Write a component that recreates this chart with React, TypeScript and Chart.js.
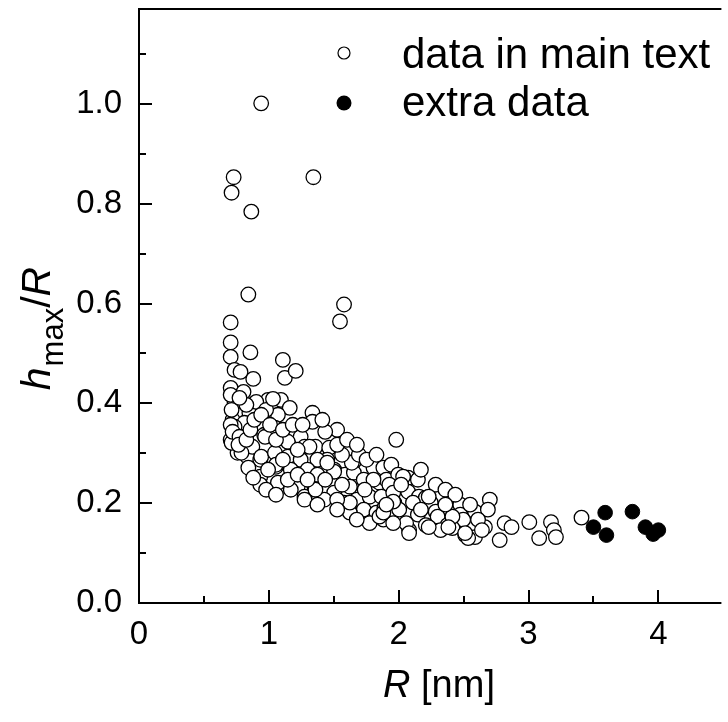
import { useEffect, useRef } from 'react';
import { Chart, registerables } from 'chart.js';

Chart.register(...registerables);

// ---- data (R in nm, hmax/R) ----
const mainR = [
  0.941, 0.729, 0.713, 0.865, 1.343, 0.842, 1.579, 1.548, 0.706, 0.706,
  0.706, 0.858, 0.736, 0.782, 0.880, 1.108, 1.123, 1.207, 0.706, 0.805,
  0.736, 0.896, 0.971, 0.759, 0.850, 0.721, 0.812, 0.911, 0.706, 0.736,
  0.964, 0.759, 0.835, 0.934, 0.934, 0.934, 0.873, 0.994, 1.093, 1.161,
  1.070, 1.336, 1.336, 1.526, 1.434, 1.245, 1.146, 1.047, 0.971, 0.941,
  1.047, 1.146, 1.275, 1.359, 1.465, 1.450, 1.374, 1.245, 1.055, 1.169,
  1.298, 1.503, 1.655, 1.586, 1.655, 1.806, 1.882, 1.731, 1.852, 0.789,
  1.070, 1.222, 1.351, 1.503, 1.427, 1.275, 1.169, 1.579, 1.677, 1.776,
  1.731, 1.624, 1.829, 1.882, 1.776, 1.677, 1.981, 1.943, 1.905, 1.996,
  2.072, 2.148, 2.285, 1.928, 1.867, 1.958, 2.072, 2.156, 2.209, 1.890,
  1.966, 2.110, 2.247, 1.981, 2.148, 2.285, 2.080, 2.209, 2.338, 2.474,
  2.474, 2.421, 2.497, 2.588, 2.702, 2.687, 2.664, 2.512, 2.588, 2.611,
  2.778, 2.816, 2.869, 3.006, 3.082, 3.173, 3.195, 3.211, 3.408, 2.034,
  2.004, 2.300, 2.057, 2.376, 2.414, 2.323, 2.535, 1.852, 1.958, 2.231,
  1.882, 2.414, 2.641, 2.512, 2.383, 2.231, 2.080, 1.958, 1.624, 1.526,
  1.359, 1.275, 1.624, 1.806, 1.639, 1.503, 1.450, 0.903, 0.979, 1.313,
  0.713, 1.055, 1.032, 0.706, 0.713, 0.706, 0.721, 0.774, 0.766, 0.827,
  0.858, 0.827, 0.774, 0.888, 0.941, 1.009, 1.055, 1.108, 1.184, 1.222,
  1.108, 0.994, 0.842, 0.880, 0.979, 1.055, 1.146, 1.222, 1.374, 1.434,
  1.564, 1.564, 1.693, 1.753, 1.829, 1.738, 1.905, 2.019, 2.171, 2.360,
  2.436, 2.550, 2.360, 2.171, 1.526, 1.374, 1.298, 1.526, 1.260, 1.412,
  1.602, 1.678,
];
const mainH = [
  1.001, 0.853, 0.822, 0.784, 0.853, 0.618, 0.598, 0.564, 0.562, 0.522,
  0.493, 0.502, 0.467, 0.463, 0.449, 0.487, 0.451, 0.465, 0.431, 0.423,
  0.401, 0.401, 0.393, 0.377, 0.381, 0.367, 0.361, 0.357, 0.327, 0.353,
  0.337, 0.301, 0.293, 0.287, 0.253, 0.237, 0.313, 0.407, 0.407, 0.391,
  0.377, 0.381, 0.363, 0.347, 0.343, 0.333, 0.323, 0.351, 0.333, 0.293,
  0.301, 0.293, 0.313, 0.313, 0.311, 0.287, 0.287, 0.287, 0.273, 0.267,
  0.267, 0.267, 0.283, 0.257, 0.261, 0.271, 0.271, 0.247, 0.241, 0.301,
  0.241, 0.233, 0.233, 0.221, 0.207, 0.213, 0.227, 0.201, 0.207, 0.213,
  0.187, 0.181, 0.181, 0.167, 0.160, 0.167, 0.327, 0.277, 0.247, 0.257,
  0.251, 0.247, 0.237, 0.237, 0.213, 0.221, 0.223, 0.213, 0.211, 0.191,
  0.201, 0.201, 0.201, 0.177, 0.177, 0.183, 0.146, 0.156, 0.156, 0.197,
  0.177, 0.160, 0.167, 0.183, 0.207, 0.187, 0.152, 0.136, 0.132, 0.167,
  0.126, 0.160, 0.152, 0.162, 0.130, 0.162, 0.146, 0.132, 0.171, 0.253,
  0.187, 0.173, 0.160, 0.156, 0.150, 0.146, 0.130, 0.173, 0.160, 0.213,
  0.181, 0.173, 0.146, 0.140, 0.152, 0.152, 0.140, 0.203, 0.201, 0.207,
  0.227, 0.207, 0.233, 0.247, 0.281, 0.263, 0.281, 0.403, 0.387, 0.313,
  0.321, 0.277, 0.409, 0.417, 0.387, 0.357, 0.343, 0.333, 0.317, 0.327,
  0.347, 0.397, 0.411, 0.367, 0.377, 0.357, 0.327, 0.347, 0.357, 0.307,
  0.287, 0.267, 0.271, 0.251, 0.227, 0.217, 0.247, 0.257, 0.257, 0.247,
  0.237, 0.297, 0.297, 0.287, 0.297, 0.227, 0.197, 0.237, 0.267, 0.227,
  0.217, 0.197, 0.197, 0.187, 0.187, 0.197, 0.247, 0.317, 0.357, 0.367,
  0.327, 0.317,
];
const extraR = [3.50, 3.59, 3.60, 3.80, 3.90, 3.96, 4.00];
const extraH = [0.152, 0.181, 0.136, 0.183, 0.152, 0.138, 0.146];

const xMajorTicks = [0, 1, 2, 3, 4];
const xMinorTicks = [0.5, 1.5, 2.5, 3.5];
const yMajorTicks = [0, 0.2, 0.4, 0.6, 0.8, 1.0];
const yMinorTicks = [0.1, 0.3, 0.5, 0.7, 0.9, 1.1];
const legendLabels = ['data in main text', 'extra data'];

const FAMILY = '"Liberation Sans", Arial, sans-serif';

const decorPlugin = {
  id: 'decor',
  afterDraw(chart: any) {
    const { ctx, chartArea: a, scales } = chart;
    const xs = scales.x;
    const ys = scales.y;
    ctx.save();
    ctx.strokeStyle = '#000';
    ctx.fillStyle = '#000';
    ctx.lineWidth = 2;
    ctx.lineCap = 'butt';
    // frame (left, bottom, top)
    ctx.beginPath();
    ctx.moveTo(a.right + 2, a.top);
    ctx.lineTo(a.left, a.top);
    ctx.lineTo(a.left, a.bottom);
    ctx.lineTo(a.right + 2, a.bottom);
    ctx.stroke();
    // inward ticks
    ctx.beginPath();
    xMajorTicks.forEach((v) => {
      const p = Math.round(xs.getPixelForValue(v));
      ctx.moveTo(p, a.bottom);
      ctx.lineTo(p, a.bottom - 13);
    });
    xMinorTicks.forEach((v) => {
      const p = Math.round(xs.getPixelForValue(v));
      ctx.moveTo(p, a.bottom);
      ctx.lineTo(p, a.bottom - 7);
    });
    yMajorTicks.forEach((v) => {
      const p = Math.round(ys.getPixelForValue(v));
      ctx.moveTo(a.left, p);
      ctx.lineTo(a.left + 13, p);
    });
    yMinorTicks.forEach((v) => {
      const p = Math.round(ys.getPixelForValue(v));
      ctx.moveTo(a.left, p);
      ctx.lineTo(a.left + 7, p);
    });
    ctx.stroke();

    // legend
    ctx.lineWidth = 1.2;
    ctx.beginPath();
    ctx.arc(344, 53, 6, 0, Math.PI * 2);
    ctx.fillStyle = '#fff';
    ctx.fill();
    ctx.stroke();
    ctx.fillStyle = '#000';
    ctx.beginPath();
    ctx.arc(344, 103, 7.5, 0, Math.PI * 2);
    ctx.fill();
    ctx.font = `42px ${FAMILY}`;
    ctx.textAlign = 'left';
    ctx.textBaseline = 'middle';
    ctx.fillText(legendLabels[0], 402, 56);
    ctx.fillText(legendLabels[1], 402, 104);

    // x title: R [nm]
    ctx.textBaseline = 'alphabetic';
    const fI = `italic 38px ${FAMILY}`;
    const fN = `38px ${FAMILY}`;
    ctx.font = fI;
    const wR = ctx.measureText('R').width;
    ctx.font = fN;
    const wU = ctx.measureText(' [nm]').width;
    const cx = 439;
    const x0 = cx - (wR + wU) / 2;
    ctx.font = fI;
    ctx.fillText('R', x0, 697);
    ctx.font = fN;
    ctx.fillText(' [nm]', x0 + wR, 697);

    // y title: h_max/R (rotated)
    ctx.save();
    ctx.translate(50, 329);
    ctx.rotate(-Math.PI / 2);
    const fIy = `italic 41px ${FAMILY}`;
    const fNy = `41px ${FAMILY}`;
    const fS = `31px ${FAMILY}`;
    ctx.font = fIy;
    const wh = ctx.measureText('h').width;
    const wr = ctx.measureText('R').width;
    ctx.font = fS;
    const wm = ctx.measureText('max').width;
    ctx.font = fNy;
    const ws = ctx.measureText('/').width;
    let s = -(wh + wm + ws + wr) / 2;
    ctx.font = fIy;
    ctx.fillText('h', s, 0);
    s += wh + 1;
    ctx.font = fS;
    ctx.fillText('max', s, 13);
    s += wm;
    ctx.font = fNy;
    ctx.fillText('/', s, 0);
    s += ws;
    ctx.font = fIy;
    ctx.fillText('R', s, 0);
    ctx.restore();

    ctx.restore();
  },
};

export default function App() {
  const ref = useRef<HTMLCanvasElement>(null);
  useEffect(() => {
    document.body.style.margin = '0';
    const canvas = ref.current!;
    const chart = new Chart(canvas, {
      type: 'scatter',
      data: {
        datasets: [
          {
            label: legendLabels[0],
            data: mainR.map((r, i) => ({ x: r, y: mainH[i] })),
            pointRadius: 7.3,
            pointBackgroundColor: '#fff',
            pointBorderColor: '#000',
            pointBorderWidth: 1.3,
          },
          {
            label: legendLabels[1],
            data: extraR.map((r, i) => ({ x: r, y: extraH[i] })),
            pointRadius: 7.3,
            pointBackgroundColor: '#000',
            pointBorderColor: '#000',
            pointBorderWidth: 1,
          },
        ],
      },
      options: {
        responsive: false,
        animation: false,
        devicePixelRatio: 1,
        layout: { padding: { top: 9, right: 0, left: 0, bottom: 0 } },
        plugins: { legend: { display: false }, tooltip: { enabled: false } },
        scales: {
          x: {
            type: 'linear',
            min: 0,
            max: 4.47,
            afterFit: (s: any) => {
              s.height = 119;
              s.paddingLeft = 0;
              s.paddingRight = 0;
            },
            grid: { display: false, drawTicks: false },
            border: { display: false },
            ticks: {
              stepSize: 1,
              includeBounds: false,
              padding: 12,
              color: '#000',
              font: { family: FAMILY, size: 33 },
              callback: (v: any) => String(v),
              maxRotation: 0,
            },
          },
          y: {
            type: 'linear',
            min: 0,
            max: 1.19,
            afterFit: (s: any) => {
              s.width = 139;
              s.paddingTop = 0;
              s.paddingBottom = 0;
            },
            grid: { display: false, drawTicks: false },
            border: { display: false },
            ticks: {
              stepSize: 0.2,
              includeBounds: false,
              padding: 17,
              color: '#000',
              font: { family: FAMILY, size: 33 },
              callback: (v: any) => Number(v).toFixed(1),
            },
          },
        },
      },
      plugins: [decorPlugin],
    });
    return () => chart.destroy();
  }, []);
  return (
    <div style={{ position: 'absolute', left: 0, top: 0, width: 728, height: 722, background: '#fff' }}>
      <canvas ref={ref} width={728} height={722} style={{ display: 'block', width: 728, height: 722 }} />
    </div>
  );
}
